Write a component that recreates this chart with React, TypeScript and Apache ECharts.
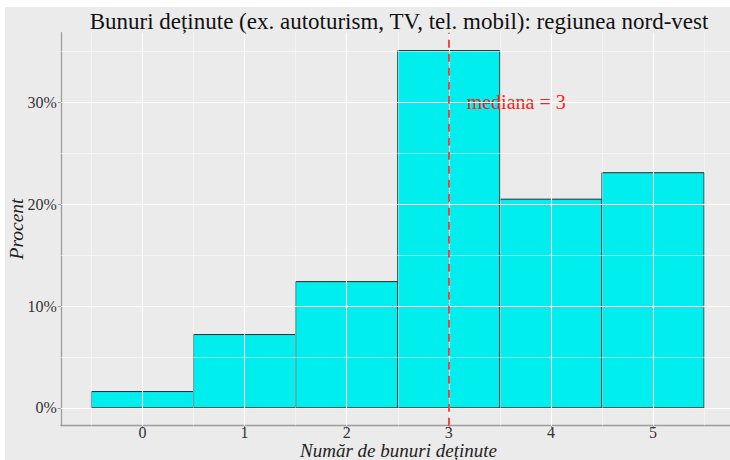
import React, { useEffect, useRef } from "react";
import * as echarts from "echarts";

const categories = [0, 1, 2, 3, 4, 5];
const percentValues = [1.6, 7.2, 12.4, 35.1, 20.5, 23.1];
const yTickValues = [0, 10, 20, 30];
const yMinorValues = [5, 15, 25, 35];
const xMinorValues = [-0.5, 0.5, 1.5, 2.5, 3.5, 4.5, 5.5];
const medianValue = 3;
const medianLabelPos = [3.66, 30];
const titleText = "Bunuri deținute (ex. autoturism, TV, tel. mobil): regiunea nord-vest";
const xTitle = "Număr de bunuri deținute";
const yTitle = "Procent";

const FONT = "'Liberation Serif', 'Times New Roman', serif";

export default function App() {
  const ref = useRef<HTMLDivElement>(null);
  useEffect(() => {
    if (!ref.current) return;
    const chart = echarts.init(ref.current, undefined, { renderer: "svg" });
    const maxV = Math.max(...percentValues);
    const yMin = -0.05 * maxV;
    const yMax = maxV * 1.05;
    const axisColor = "#9c9c9c";
    const majorLine = { color: "#ffffff", width: 1.1, type: "solid" as const };
    const minorLine = { color: "#ffffff", width: 0.5, type: "solid" as const };
    const medianLine = { color: "#FF3030", width: 1.8, type: [8, 6] };
    chart.setOption({
      animation: false,
      backgroundColor: "#EBEBEB",
      grid: {
        left: 55.8,
        top: 25.7,
        right: -4.7,
        bottom: 34.3,
        show: true,
        backgroundColor: "#EBEBEB",
        borderWidth: 0,
        containLabel: false,
        outerBoundsMode: "none",
      },
      xAxis: {
        type: "value",
        min: -0.8,
        max: 5.8,
        splitLine: { show: false },
        axisLine: { show: true, onZero: false, lineStyle: { color: axisColor, width: 1.3 } },
        axisTick: { show: true, length: 3, customValues: categories, lineStyle: { color: axisColor, width: 1 } },
        axisLabel: {
          customValues: categories,
          margin: -1,
          fontSize: 16,
          fontFamily: FONT,
          color: "#333333",
        },
      },
      yAxis: {
        type: "value",
        min: yMin,
        max: yMax,
        splitLine: { show: false },
        axisLine: { show: true, onZero: false, lineStyle: { color: axisColor, width: 1.3 } },
        axisTick: { show: true, length: 3, customValues: yTickValues, lineStyle: { color: axisColor, width: 1 } },
        axisLabel: {
          customValues: yTickValues,
          margin: 4,
          fontSize: 16,
          fontFamily: FONT,
          color: "#333333",
          formatter: (v: number) => `${v}%`,
        },
      },
      graphic: [
        {
          type: "text",
          x: 394,
          y: 14,
          style: {
            text: titleText,
            font: `23px ${FONT}`,
            fill: "#111111",
            align: "center",
            verticalAlign: "middle",
          },
        },
        {
          type: "text",
          x: 393.5,
          y: 443.5,
          style: {
            text: xTitle,
            font: `italic 19px ${FONT}`,
            fill: "#222222",
            align: "center",
            verticalAlign: "middle",
          },
        },
        {
          type: "text",
          x: 11.4,
          y: 222,
          rotation: Math.PI / 2,
          style: {
            text: yTitle,
            font: `italic 19.5px ${FONT}`,
            fill: "#222222",
            align: "center",
            verticalAlign: "middle",
          },
        },
      ],
      series: [
        {
          type: "line",
          z: 1,
          data: [[0, 0]],
          showSymbol: false,
          symbol: "none",
          lineStyle: { opacity: 0 },
          silent: true,
          markLine: {
            silent: true,
            symbol: ["none", "none"],
            label: { show: false },
            animation: false,
            data: [
              ...xMinorValues.map((v) => ({ xAxis: v, lineStyle: minorLine })),
              ...yMinorValues.map((v) => ({ yAxis: v, lineStyle: minorLine })),
              ...categories.map((v) => ({ xAxis: v, lineStyle: majorLine })),
              ...yTickValues.map((v) => ({ yAxis: v, lineStyle: majorLine })),
            ],
          },
        },
        {
          type: "custom",
          z: 2,
          data: categories.map((c, i) => [c, percentValues[i]]),
          renderItem: (params: any, api: any) => {
            const x = api.value(0);
            const y = api.value(1);
            const p0 = api.coord([x - 0.5, y]);
            const p1 = api.coord([x + 0.5, 0]);
            return {
              type: "rect",
              shape: { x: p0[0], y: p0[1], width: p1[0] - p0[0], height: p1[1] - p0[1] },
              style: { fill: "#00EEEE", stroke: "#2b2b2b", lineWidth: 1 },
            };
          },
        },
        {
          type: "line",
          z: 3,
          data: [[medianValue, 0]],
          showSymbol: false,
          symbol: "none",
          lineStyle: { opacity: 0 },
          silent: true,
          markLine: {
            silent: true,
            symbol: ["none", "none"],
            label: { show: false },
            animation: false,
            lineStyle: medianLine,
            data: [{ xAxis: medianValue, lineStyle: medianLine }],
          },
        },
        {
          type: "custom",
          z: 4,
          silent: true,
          data: [medianLabelPos],
          renderItem: (params: any, api: any) => {
            const p = api.coord([api.value(0), api.value(1)]);
            return {
              type: "text",
              x: p[0],
              y: p[1],
              style: {
                text: `mediana = ${medianValue}`,
                font: `20px ${FONT}`,
                fill: "#FF2020",
                align: "center",
                verticalAlign: "middle",
              },
            };
          },
        },
      ],
    });
    return () => chart.dispose();
  }, []);
  return (
    <div
      ref={ref}
      style={{ position: "fixed", left: 5, top: 7, width: 725, height: 453, background: "#EBEBEB" }}
    />
  );
}
